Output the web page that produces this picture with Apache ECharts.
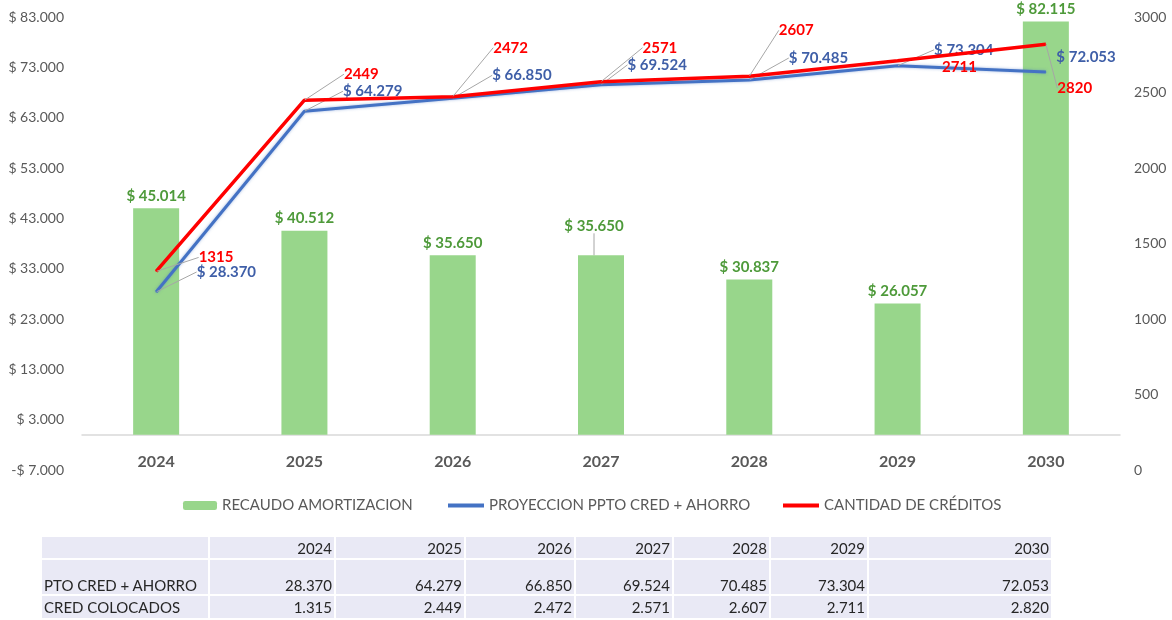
<!DOCTYPE html>
<html>
<head>
<meta charset="utf-8">
<script src="https://cdn.jsdelivr.net/npm/echarts@6/dist/echarts.min.js"></script>
<style>
  html, body { margin: 0; padding: 0; background: #fff; }
  #chart { width: 1172px; height: 620px; }
  #tabla {
    position: absolute; left: 40px; top: 535px;
    border-collapse: separate; border-spacing: 2px;
    font-family: Lato, sans-serif; font-size: 15px; color: #262626;
  }
  #tabla td { background: #E9E9F5; padding: 0 2px; text-align: right; line-height: 18px; white-space: nowrap; }
  #tabla td:first-child { text-align: left; }
</style>
</head>
<body>
<div id="chart"></div>
<table id="tabla"></table>
<script>
const years = ['2024', '2025', '2026', '2027', '2028', '2029', '2030'];
const recaudo = [45014, 40512, 35650, 35650, 30837, 26057, 82115];
const proyeccion = [28370, 64279, 66850, 69524, 70485, 73304, 72053];
const creditos = [1315, 2449, 2472, 2571, 2607, 2711, 2820];

// left axis: -7000 .. 83000 step 10000 ; right axis 0 .. 3000 step 500
const leftAxis = { min: -7000, max: 83000, step: 10000 };
const rightAxis = { min: 0, max: 3000, step: 500 };

// label offsets (dx, dy) to place the labels like in the original
const redDx = [37, 34, 35, 36, 24, 39, 6];
const redDy = [-14, -26, -49, -34, -46, 7, 44];
const redLine = [true, true, true, true, true, false, true];
const blueDx = [35, 33, 34, 21, 34, 31, 5];
const blueDy = [-20, -20, -23, -20, -22, -16, -15];
const blueLine = [true, true, true, true, true, true, false];
const barDx = [0, 0, 0, -7, 0, 0, 0];
const barDy = [0, 0, 0, -17, 0, 0, 0];
const barLine = [false, false, false, true, false, false, false];

function miles(v) {
    return String(Math.abs(v)).replace(/\B(?=(\d{3})+(?!\d))/g, '.');
}
function pesos(v) {
    return (v < 0 ? '-$ ' : '$ ') + miles(v);
}

let chart = echarts.init(document.getElementById('chart'));

let leader = { color: '#A6A6A6', width: 1 };
let legendText = { color: '#595959', fontSize: 15 };

let option = {
    animation: false,
    textStyle: { fontFamily: 'Lato, sans-serif' },
    grid: { left: 82, right: 52, top: 17, bottom: 150 },
    legend: [
        {
            data: ['RECAUDO AMORTIZACION'],
            left: 183, top: 498, padding: 0,
            itemWidth: 34, itemHeight: 9,
            textStyle: legendText
        },
        {
            data: ['PROYECCION PPTO CRED + AHORRO'],
            left: 448, top: 498, padding: 0, icon: 'rect',
            itemWidth: 36, itemHeight: 4,
            textStyle: legendText
        },
        {
            data: ['CANTIDAD DE CRÉDITOS'],
            left: 783, top: 498, padding: 0, icon: 'rect',
            itemWidth: 36, itemHeight: 4,
            textStyle: legendText
        }
    ],
    xAxis: {
        type: 'category',
        data: years,
        axisTick: { show: false },
        axisLine: { onZero: true, onZeroAxisIndex: 0, lineStyle: { color: '#D9D9D9', width: 1.5 } },
        axisLabel: { color: '#595959', fontSize: 16, fontWeight: 'bold', margin: -16 }
    },
    yAxis: [
        {
            type: 'value',
            min: leftAxis.min, max: leftAxis.max, interval: leftAxis.step,
            splitLine: { show: false },
            axisLine: { show: false },
            axisLabel: { color: '#595959', fontSize: 14, margin: 18, formatter: pesos }
        },
        {
            type: 'value',
            min: rightAxis.min, max: rightAxis.max, interval: rightAxis.step,
            splitLine: { show: false },
            axisLine: { show: false },
            axisLabel: { color: '#595959', fontSize: 14, margin: 14, formatter: v => String(v) }
        }
    ],
    series: [
        {
            name: 'RECAUDO AMORTIZACION',
            type: 'bar',
            barWidth: 46,
            yAxisIndex: 0,
            itemStyle: { color: '#98D68B' },
            label: {
                show: true, position: 'top', distance: 5,
                color: '#4E9A3A', fontSize: 15, fontWeight: 'bold',
                formatter: p => pesos(p.value)
            },
            labelLine: { show: false, lineStyle: leader },
            labelLayout: p => ({ dx: barDx[p.dataIndex], dy: barDy[p.dataIndex] }),
            data: recaudo.map((v, i) => ({ value: v, labelLine: { show: barLine[i] } }))
        },
        {
            name: 'PROYECCION PPTO CRED + AHORRO',
            type: 'line',
            yAxisIndex: 0,
            symbol: 'circle', symbolSize: 1,
            itemStyle: { color: '#4472C4' },
            lineStyle: { color: '#4472C4', width: 3, shadowColor: 'rgba(68,114,196,0.5)', shadowBlur: 3 },
            label: {
                show: true, position: 'right', distance: 5,
                color: '#3F5FA8', fontSize: 15, fontWeight: 'bold',
                formatter: p => pesos(p.value)
            },
            labelLine: { show: true, lineStyle: leader },
            labelLayout: p => ({ dx: blueDx[p.dataIndex], dy: blueDy[p.dataIndex] }),
            data: proyeccion.map((v, i) => ({ value: v, labelLine: { show: blueLine[i] } })),
            z: 3
        },
        {
            name: 'CANTIDAD DE CRÉDITOS',
            type: 'line',
            yAxisIndex: 1,
            symbol: 'circle', symbolSize: 1,
            itemStyle: { color: '#FF0000' },
            lineStyle: { color: '#FF0000', width: 3.5 },
            label: {
                show: true, position: 'right', distance: 5,
                color: '#FF0000', fontSize: 15, fontWeight: 'bold'
            },
            labelLine: { show: true, lineStyle: leader },
            labelLayout: p => ({ dx: redDx[p.dataIndex], dy: redDy[p.dataIndex] }),
            data: creditos.map((v, i) => ({ value: v, labelLine: { show: redLine[i] } })),
            z: 4
        }
    ]
};

chart.setOption(option);

// data table below the chart
let widths = [166, 124, 128, 108, 96, 95, 96, 182];
let heights = [21, 34, 22];
let rows = [
    [''].concat(years),
    ['PTO CRED + AHORRO'].concat(proyeccion.map(miles)),
    ['CRED COLOCADOS'].concat(creditos.map(miles))
];
let html = '';
rows.forEach((r, ri) => {
    html += '<tr>';
    r.forEach((c, ci) => {
        let st = 'width:' + (widths[ci] - 4) + 'px;height:' + heights[ri] + 'px;';
        st += ri === 1 ? 'vertical-align:bottom;padding-bottom:0;' : 'vertical-align:middle;';
        html += '<td style="' + st + '">' + c + '</td>';
    });
    html += '</tr>';
});
document.getElementById('tabla').innerHTML = html;
</script>
</body>
</html>
